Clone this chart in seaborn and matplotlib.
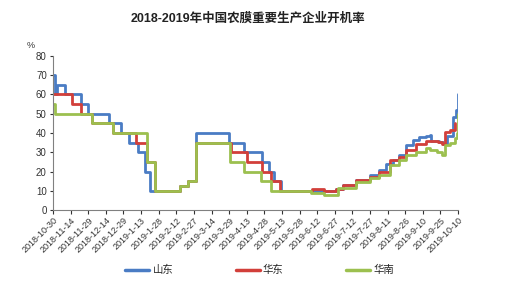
import matplotlib
matplotlib.use("Agg")
import matplotlib.pyplot as plt
import seaborn as sns
import pandas as pd
import numpy as np

# ---- data (change points, days from 2018-10-30) ----
start = "2018-10-30"
shandong_days = [0, 2, 3, 10, 24, 30, 48, 58, 65, 72, 78, 83, 108, 115, 122, 150, 163, 178, 184, 188, 194,
                 241, 247, 258, 270, 278, 284, 290, 295, 301, 307, 312, 318, 321, 322, 329, 332,
                 336, 341, 343, 345]
shandong_vals = [70, 60, 65, 60, 55, 50, 45, 40, 35, 30, 20, 10, 12.5, 15, 40, 35, 30, 25, 20, 15, 10,
                 11, 13, 15.5, 18, 21, 24, 26, 28.5, 34, 36.5, 38, 38.5, 39, 36, 35.5, 34.5,
                 38.5, 48.5, 52, 60]
huadong_days = [0, 16, 24, 33, 51, 71, 80, 87, 108, 115, 122, 152, 165, 178, 186, 193, 221, 231,
                241, 247, 258, 270, 278, 287, 295, 301, 309, 318, 328, 331, 334, 338, 342]
huadong_vals = [60, 55, 50, 45, 40, 35, 25, 10, 12.5, 15, 35, 30, 25, 20, 15, 10, 11, 10,
                11, 13, 15.5, 17.4, 20, 26, 27.3, 31, 34.4, 35.6, 35.5, 34.5, 40.5, 41.7, 45]
huanan_days = [0, 2, 33, 51, 80, 87, 108, 115, 122, 151, 163, 177, 186, 220, 231, 243,
               258, 270, 278, 287, 295, 301, 309, 318, 321, 327, 331, 334, 338, 342, 344, 345]
huanan_vals = [55, 50, 45, 40, 25, 10, 12.5, 15, 35, 25, 20, 15, 10, 9, 8, 11.3,
               14.8, 16.5, 18.2, 23.4, 26, 28.6, 30.4, 32, 31, 30, 28.6, 34, 34.7, 37.3, 40, 50]
series_names = ["山东", "华东", "华南"]
tick_labels = ["2018-10-30", "2018-11-14", "2018-11-29", "2018-12-14", "2018-12-29",
               "2019-1-13", "2019-1-28", "2019-2-12", "2019-2-27", "2019-3-14", "2019-3-29",
               "2019-4-13", "2019-4-28", "2019-5-13", "2019-5-28", "2019-6-12", "2019-6-27",
               "2019-7-12", "2019-7-27", "2019-8-11", "2019-8-26", "2019-9-10", "2019-9-25",
               "2019-10-10"]
title = "2018-2019年中国农膜重要生产企业开机率"

sns.set_theme(style="white")
plt.rcParams["font.family"] = ["Liberation Sans", "Noto Sans CJK SC", "DejaVu Sans"]

t0 = pd.Timestamp(start)
frames = []
for name, d, v in zip(series_names,
                      [shandong_days, huadong_days, huanan_days],
                      [shandong_vals, huadong_vals, huanan_vals]):
    frames.append(pd.DataFrame({"date": t0 + pd.to_timedelta(d, unit="D"),
                                "value": v, "region": name}))
df = pd.concat(frames, ignore_index=True)

palette = {"山东": "#4A7CC4", "华东": "#D23F3A", "华南": "#9CC04F"}

fig = plt.figure(figsize=(5.05, 2.93), dpi=100)
ax = fig.add_axes([0.105, 0.283, 0.802, 0.526])
sns.lineplot(data=df, x="date", y="value", hue="region", hue_order=series_names,
             palette=palette, drawstyle="steps-post", linewidth=2.0, ax=ax,
             estimator=None, sort=False)

ticks = pd.to_datetime(tick_labels, format="%Y-%m-%d")
ax.set_xticks(ticks)
ax.set_xticklabels(tick_labels, rotation=45, ha="right", rotation_mode="anchor",
                   fontsize=6.5, color="#333333")
ax.set_xlim(ticks[0], ticks[-1])
ax.set_ylim(0, 80)
ax.set_yticks(np.arange(0, 81, 10))
ax.tick_params(axis="y", labelsize=7, colors="#333333", length=2.5, width=0.8, left=True, pad=2)
ax.tick_params(axis="x", length=3, width=0.8, bottom=True, pad=1, colors="#333333")
for s in ["top", "right"]:
    ax.spines[s].set_visible(False)
for s in ["left", "bottom"]:
    ax.spines[s].set_color("#808080")
    ax.spines[s].set_linewidth(0.8)
ax.set_xlabel("")
ax.set_ylabel("")
ax.text(-0.055, 1.04, "%", transform=ax.transAxes, fontsize=6.5, color="#333333",
        ha="center", va="bottom")

fig.text(0.49, 0.935, title, ha="center", va="center", fontsize=9, fontweight="bold",
         color="#222222")

handles, labels = ax.get_legend_handles_labels()
for h in handles:
    h.set_linewidth(2.5)
ax.legend(handles, labels, loc="center", bbox_to_anchor=(0.51, -0.39), ncol=3, frameon=False,
          fontsize=7.5, handlelength=2.3, columnspacing=6, handletextpad=0.3)

fig.savefig("out.png", dpi=100)
